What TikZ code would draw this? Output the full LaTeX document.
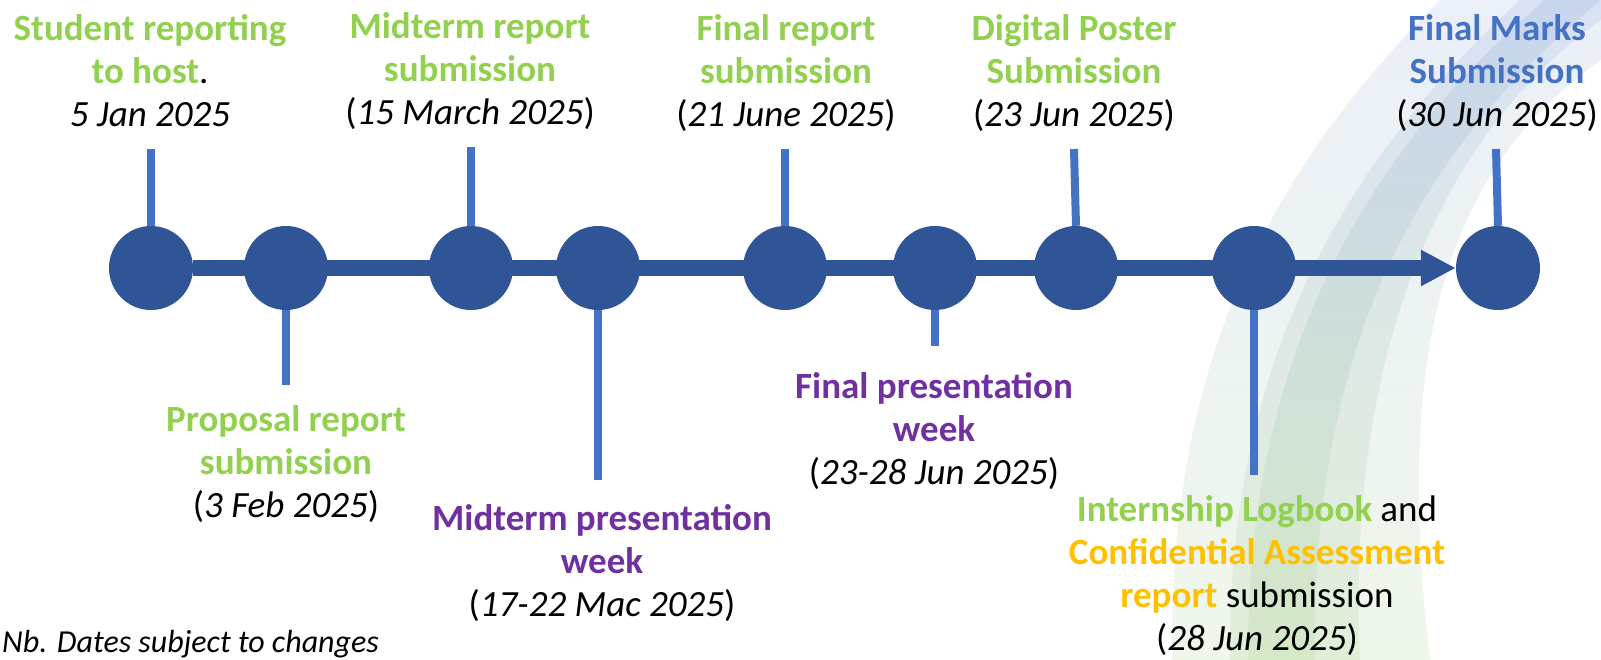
\documentclass[tikz,border=0pt]{standalone}
\usepackage{fontspec}
\setmainfont{Carlito}
\usetikzlibrary{positioning, calc, arrows.meta, backgrounds}

\definecolor{tlBlue}{HTML}{2F5597}
\definecolor{stemBlue}{HTML}{4472C4}
\definecolor{tlGreen}{HTML}{92D050}
\definecolor{tlPurple}{HTML}{7030A0}
\definecolor{tlOrange}{HTML}{FFC000}
\definecolor{swBlue}{HTML}{8FAADC}
\definecolor{swGreen}{HTML}{A9D18E}

\newcommand{\grn}[1]{\textbf{\color{tlGreen}#1}}
\newcommand{\prp}[1]{\textbf{\color{tlPurple}#1}}
\newcommand{\org}[1]{\textbf{\color{tlOrange}#1}}
\newcommand{\blu}[1]{\textbf{\color{stemBlue}#1}}

\tikzset{
  dot/.style={circle, fill=tlBlue, minimum size=84pt, inner sep=0pt},
  stem/.style={stemBlue, line width=8pt},
  evtext/.style={align=center, anchor=base, inner sep=0pt,
                 font=\fontsize{37}{43}\selectfont}
}

\begin{document}
\begin{tikzpicture}[x=1pt, y=-1pt]
        \useasboundingbox (0,0) rectangle (1601,660);

        % swoosh in the background
        \begin{scope}[on background layer]
        \shade[top color=swBlue, bottom color=swGreen, fill opacity=.18]
              (1172,660) .. controls (1170,400) and (1240,200) .. (1440,0) -- (1601,0) -- (1601,60)
              .. controls (1460,160) and (1390,320) .. (1430,660) -- cycle;                        %wide
        \shade[top color=swBlue, bottom color=swGreen, fill opacity=.2]
              (1230,660) .. controls (1228,420) and (1300,200) .. (1520,0) -- (1601,0) -- (1601,20)
              .. controls (1460,120) and (1345,320) .. (1360,660) -- cycle;                        %middle
        \shade[top color=swBlue, bottom color=swGreen, fill opacity=.22]
              (1248,660) .. controls (1246,420) and (1320,190) .. (1545,0) -- (1601,0)
              .. controls (1430,140) and (1310,330) .. (1315,660) -- cycle;                        %narrow
        \end{scope}

        % the milestones
        \node[dot] at (151,268)  (rep)     {}; %reporting
        \node[dot] at (286,268)  (prop)    {}; %proposal
        \node[dot] at (471,268)  (midrep)  {}; %midterm report
        \node[dot] at (598,268)  (midpres) {}; %midterm presentation
        \node[dot] at (785,268)  (finrep)  {}; %final report
        \node[dot] at (935,268)  (finpres) {}; %final presentation
        \node[dot] at (1076,268) (poster)  {}; %poster
        \node[dot] at (1254,268) (logbook) {}; %logbook
        \node[dot] at (1498,268) (marks)   {}; %marks

        \begin{scope}[on background layer]
        \draw[tlBlue, line width=16pt, -{Triangle[length=35pt, width=34pt]}] (rep.east) -- (marks.west);
        \end{scope}

        % stems
        \coordinate (repEnd)     at (151,149);
        \coordinate (propEnd)    at (286,385);
        \coordinate (midrepEnd)  at (471,147);
        \coordinate (midpresEnd) at (598,480);
        \coordinate (finrepEnd)  at (785,149);
        \coordinate (finpresEnd) at (935,346);
        \coordinate (posterEnd)  at (1074,149);
        \coordinate (logbookEnd) at (1254,475);
        \coordinate (marksEnd)   at (1496,149);

        \foreach \n in {rep, midrep, finrep, poster, marks}
          \draw[stem] (\n.north) -- (\n End);
        \foreach \n in {prop, midpres, finpres, logbook}
          \draw[stem] (\n.south) -- (\n End);

        % texts above
        \node[evtext] at (150,127)  (repTxt)    {\grn{Student reporting}\\\grn{to host}.\\\textit{5 Jan 2025}};
        \node[evtext] at (470,125)  (midrepTxt) {\grn{Midterm report}\\\grn{submission}\\(\textit{15 March 2025})};
        \node[evtext] at (786,127)  (finrepTxt) {\grn{Final report}\\\grn{submission}\\(\textit{21 June 2025})};
        \node[evtext] at (1074,127) (posterTxt) {\grn{Digital Poster}\\\grn{Submission}\\(\textit{23 Jun 2025})};
        \node[evtext] at (1497,127) (marksTxt)  {\blu{Final Marks}\\\blu{Submission}\\(\textit{30 Jun 2025})};

        % texts below
        \node[evtext] at (286,517)  (propTxt)    {\grn{Proposal report}\\\grn{submission}\\(\textit{3 Feb 2025})};
        \node[evtext] at (602,616)  (midpresTxt) {\prp{Midterm presentation}\\\prp{week}\\(\textit{17-22 Mac 2025})};
        \node[evtext] at (934,484)  (finpresTxt) {\prp{Final presentation}\\\prp{week}\\(\textit{23-28 Jun 2025})};
        \node[evtext] at (1257,650) (logbookTxt) {\grn{Internship Logbook} and\\\org{Confidential Assessment}\\\org{report} submission\\(\textit{28 Jun 2025})};

        \node[anchor=base west, inner sep=0pt, font=\fontsize{32}{38}\selectfont\itshape] at (2,652) (note) {Nb. Dates subject to changes};
\end{tikzpicture}
\end{document}
